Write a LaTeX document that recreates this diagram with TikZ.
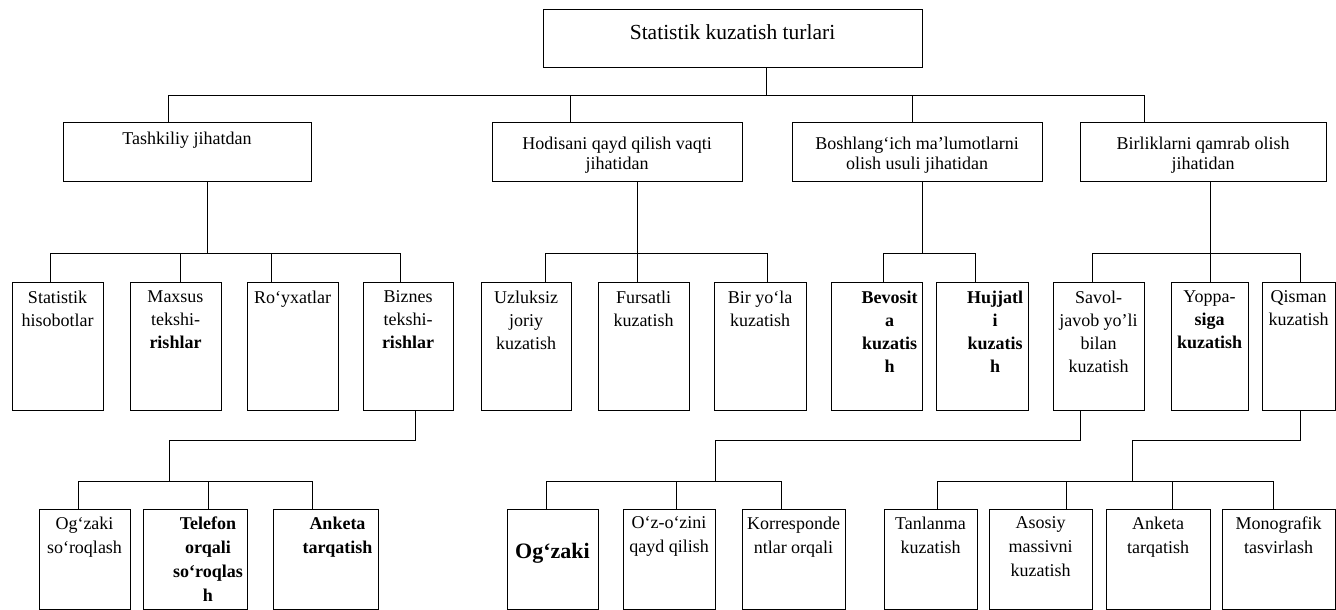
\documentclass[tikz,border=0pt]{standalone}
\usepackage{fontspec}
\setmainfont{Liberation Serif}
\usetikzlibrary{fit,calc}
\tikzset{
  ln/.style={line width=1pt},
  boxst/.style={draw, line width=1pt, inner sep=0pt},
  lbl/.style={inner sep=0pt, align=center, anchor=north, font=\fontsize{18}{23}\selectfont, execute at begin node={\rule{0pt}{13pt}}},
  lblfour/.style={lbl, font=\fontsize{18}{24}\selectfont},
  lbltwo/.style={lbl, font=\fontsize{18}{20}\selectfont},
  lbltop/.style={lbl, font=\fontsize{21.5}{25}\selectfont, execute at begin node={\rule{0pt}{15pt}}},
  lblbig/.style={inner sep=0pt, anchor=center, font=\fontsize{22}{26}\selectfont\bfseries},
}
\newcommand\mkbox[5]{\node[boxst, fit={(#2,#3) (#4,#5)}] (#1) {};}
\begin{document}
\begin{tikzpicture}[x=1pt,y=-1pt]
\useasboundingbox (0,0) rectangle (1336,610);
\fill[white] (0,0) rectangle (1336,610);

% ---------- level 1
\mkbox{top}{543}{10}{922}{68}
\node[lbltop] (topT) at ([yshift=-15pt]top.north) {Statistik kuzatish turlari};

% ---------- level 2
\mkbox{tash}{63}{122}{311}{181}
\mkbox{hod}{492}{122}{742}{181}
\mkbox{bosh}{792}{122}{1042}{181}
\mkbox{bir}{1080}{122}{1326}{181}
\node[lbltwo] (tashT) at ([yshift=-10pt]tash.north) {Tashkiliy jihatdan};
\node[lbltwo] (hodT) at ([yshift=-15pt]hod.north) {Hodisani qayd qilish vaqti\\jihatidan};
\node[lbltwo] (boshT) at ([yshift=-15pt]bosh.north) {Boshlang‘ich ma’lumotlarni\\olish usuli jihatidan};
\node[lbltwo] (birT) at ([yshift=-15pt]bir.north) {Birliklarni qamrab olish\\jihatidan};

% ---------- level 3
\mkbox{stat}{12}{282}{103}{410}
\mkbox{max}{130}{282}{221}{410}
\mkbox{roy}{247}{282}{338}{410}
\mkbox{biz}{363}{282}{453}{410}
\mkbox{uzl}{481}{282}{571}{410}
\mkbox{fur}{598}{282}{689}{410}
\mkbox{biry}{714}{282}{806}{410}
\mkbox{bev}{831}{282}{922}{410}
\mkbox{huj}{936}{282}{1028}{410}
\mkbox{sav}{1053}{282}{1144}{410}
\mkbox{yop}{1171}{282}{1248}{410}
\mkbox{qis}{1262}{282}{1335}{410}
\node[lbl] (statT) at ([yshift=-9pt]stat.north) {Statistik\\hisobotlar};
\node[lbl] (maxT) at ([yshift=-9pt]max.north) {Maxsus\\tekshi-\\\textbf{rishlar}};
\node[lbl] (royT) at ([yshift=-9pt]roy.north) {Ro‘yxatlar};
\node[lbl] (bizT) at ([yshift=-9pt]biz.north) {Biznes\\tekshi-\\\textbf{rishlar}};
\node[lbl] (uzlT) at ([yshift=-9pt]uzl.north) {Uzluksiz\\joriy\\kuzatish};
\node[lbl] (furT) at ([yshift=-9pt]fur.north) {Fursatli\\kuzatish};
\node[lbl] (biryT) at ([yshift=-9pt]biry.north) {Bir yo‘la\\kuzatish};
\node[lbl, font=\fontsize{18}{23}\selectfont\bfseries] (bevT) at ([xshift=13pt,yshift=-9pt]bev.north) {Bevosit\\a\\kuzatis\\h};
\node[lbl, font=\fontsize{18}{23}\selectfont\bfseries] (hujT) at ([xshift=13pt,yshift=-9pt]huj.north) {Hujjatl\\i\\kuzatis\\h};
\node[lbl] (savT) at ([yshift=-9pt]sav.north) {Savol-\\javob yo’li\\bilan\\kuzatish};
\node[lbl] (yopT) at ([yshift=-9pt]yop.north) {Yoppa-\\\textbf{siga}\\\textbf{kuzatish}};
\node[lbl] (qisT) at ([yshift=-9pt]qis.north) {Qisman\\kuzatish};

% ---------- level 4
\mkbox{ogs}{39}{509}{130}{609}
\mkbox{tel}{143}{509}{247}{609}
\mkbox{ankA}{273}{509}{378}{609}
\mkbox{ogz}{507}{509}{598}{609}
\mkbox{ozo}{623}{509}{715}{609}
\mkbox{kor}{742}{509}{845}{609}
\mkbox{tan}{884}{509}{977}{609}
\mkbox{aso}{989}{509}{1092}{609}
\mkbox{ankB}{1106}{509}{1210}{609}
\mkbox{mon}{1222}{509}{1335}{609}
\node[lblfour] (ogsT) at ([yshift=-8pt]ogs.north) {Og‘zaki\\so‘roqlash};
\node[lblfour, font=\fontsize{18}{24}\selectfont\bfseries] (telT) at ([xshift=13pt,yshift=-8pt]tel.north) {Telefon\\orqali\\so‘roqlas\\h};
\node[lblfour, font=\fontsize{18}{24}\selectfont\bfseries] (ankAT) at ([xshift=12pt,yshift=-8pt]ankA.north) {Anketa\\tarqatish};
\node[lblbig] (ogzT) at (ogz.center |- 0,553) {Og‘zaki};
\node[lblfour] (ozoT) at ([yshift=-8pt]ozo.north) {O‘z-o‘zini\\qayd qilish};
\node[lblfour] (korT) at ([yshift=-8pt]kor.north) {Korresponde\\ntlar orqali};
\node[lblfour] (tanT) at ([yshift=-8pt]tan.north) {Tanlanma\\kuzatish};
\node[lblfour] (asoT) at ([yshift=-8pt]aso.north) {Asosiy\\massivni\\kuzatish};
\node[lblfour] (ankBT) at ([yshift=-8pt]ankB.north) {Anketa\\tarqatish};
\node[lblfour] (monT) at ([yshift=-8pt]mon.north) {Monografik\\tasvirlash};

% ---------- connectors level 1 -> 2
\coordinate (s0) at (766,95);
\coordinate (s1) at (168,95);
\coordinate (s2) at (570,95);
\coordinate (s3) at (912,95);
\coordinate (s4) at (1144,95);
\draw[ln] (top.south -| s0) -- (s0);
\draw[ln] (s1) -- (s4);
\draw[ln] (s1) -- (s1 |- tash.north);
\draw[ln] (s2) -- (s2 |- hod.north);
\draw[ln] (s3) -- (s3 |- bosh.north);
\draw[ln] (s4) -- (s4 |- bir.north);

% ---------- level 2 -> 3
\coordinate (ta0) at (207,253);
\coordinate (ta1) at (50,253);
\coordinate (ta2) at (180,253);
\coordinate (ta3) at (271,253);
\coordinate (ta4) at (400,253);
\draw[ln] (tash.south -| ta0) -- (ta0);
\draw[ln] (ta1) -- (ta4);
\draw[ln] (ta1) -- (ta1 |- stat.north);
\draw[ln] (ta2) -- (ta2 |- max.north);
\draw[ln] (ta3) -- (ta3 |- roy.north);
\draw[ln] (ta4) -- (ta4 |- biz.north);

\coordinate (ho0) at (637,253);
\coordinate (ho1) at (545,253);
\coordinate (ho3) at (767,253);
\draw[ln] (hod.south -| ho0) -- (ho0);
\draw[ln] (ho1) -- (ho3);
\draw[ln] (ho1) -- (ho1 |- uzl.north);
\draw[ln] (ho0) -- (ho0 |- fur.north);
\draw[ln] (ho3) -- (ho3 |- biry.north);

\coordinate (bo0) at (922,253);
\coordinate (bo1) at (883,253);
\coordinate (bo2) at (975,253);
\draw[ln] (bosh.south -| bo0) -- (bo0);
\draw[ln] (bo1) -- (bo2);
\draw[ln] (bo1) -- (bo1 |- bev.north);
\draw[ln] (bo2) -- (bo2 |- huj.north);

\coordinate (bi0) at (1210,253);
\coordinate (bi1) at (1092,253);
\coordinate (bi2) at (1300,253);
\draw[ln] (bir.south -| bi0) -- (bi0);
\draw[ln] (bi1) -- (bi2);
\draw[ln] (bi1) -- (bi1 |- sav.north);
\draw[ln] (bi0) -- (bi0 |- yop.north);
\draw[ln] (bi2) -- (bi2 |- qis.north);

% ---------- level 3 -> 4
\coordinate (bz0) at (415,440);
\coordinate (bz1) at (169,440);
\coordinate (bz2) at (169,481);
\coordinate (bz3) at (78,481);
\coordinate (bz4) at (208,481);
\coordinate (bz5) at (312,481);
\draw[ln] (biz.south -| bz0) -- (bz0) -- (bz1) -- (bz2);
\draw[ln] (bz3) -- (bz5);
\draw[ln] (bz3) -- (bz3 |- ogs.north);
\draw[ln] (bz4) -- (bz4 |- tel.north);
\draw[ln] (bz5) -- (bz5 |- ankA.north);

\coordinate (sv0) at (1080,440);
\coordinate (sv1) at (715,440);
\coordinate (sv2) at (715,481);
\coordinate (sv3) at (546,481);
\coordinate (sv4) at (676,481);
\coordinate (sv5) at (781,481);
\draw[ln] (sav.south -| sv0) -- (sv0) -- (sv1) -- (sv2);
\draw[ln] (sv3) -- (sv5);
\draw[ln] (sv3) -- (sv3 |- ogz.north);
\draw[ln] (sv4) -- (sv4 |- ozo.north);
\draw[ln] (sv5) -- (sv5 |- kor.north);

\coordinate (qs0) at (1300,440);
\coordinate (qs1) at (1132,440);
\coordinate (qs2) at (1132,481);
\coordinate (qs3) at (937,481);
\coordinate (qs4) at (1066,481);
\coordinate (qs5) at (1172,481);
\coordinate (qs6) at (1273,481);
\draw[ln] (qis.south -| qs0) -- (qs0) -- (qs1) -- (qs2);
\draw[ln] (qs3) -- (qs6);
\draw[ln] (qs3) -- (qs3 |- tan.north);
\draw[ln] (qs4) -- (qs4 |- aso.north);
\draw[ln] (qs5) -- (qs5 |- ankB.north);
\draw[ln] (qs6) -- (qs6 |- mon.north);
\end{tikzpicture}
\end{document}
